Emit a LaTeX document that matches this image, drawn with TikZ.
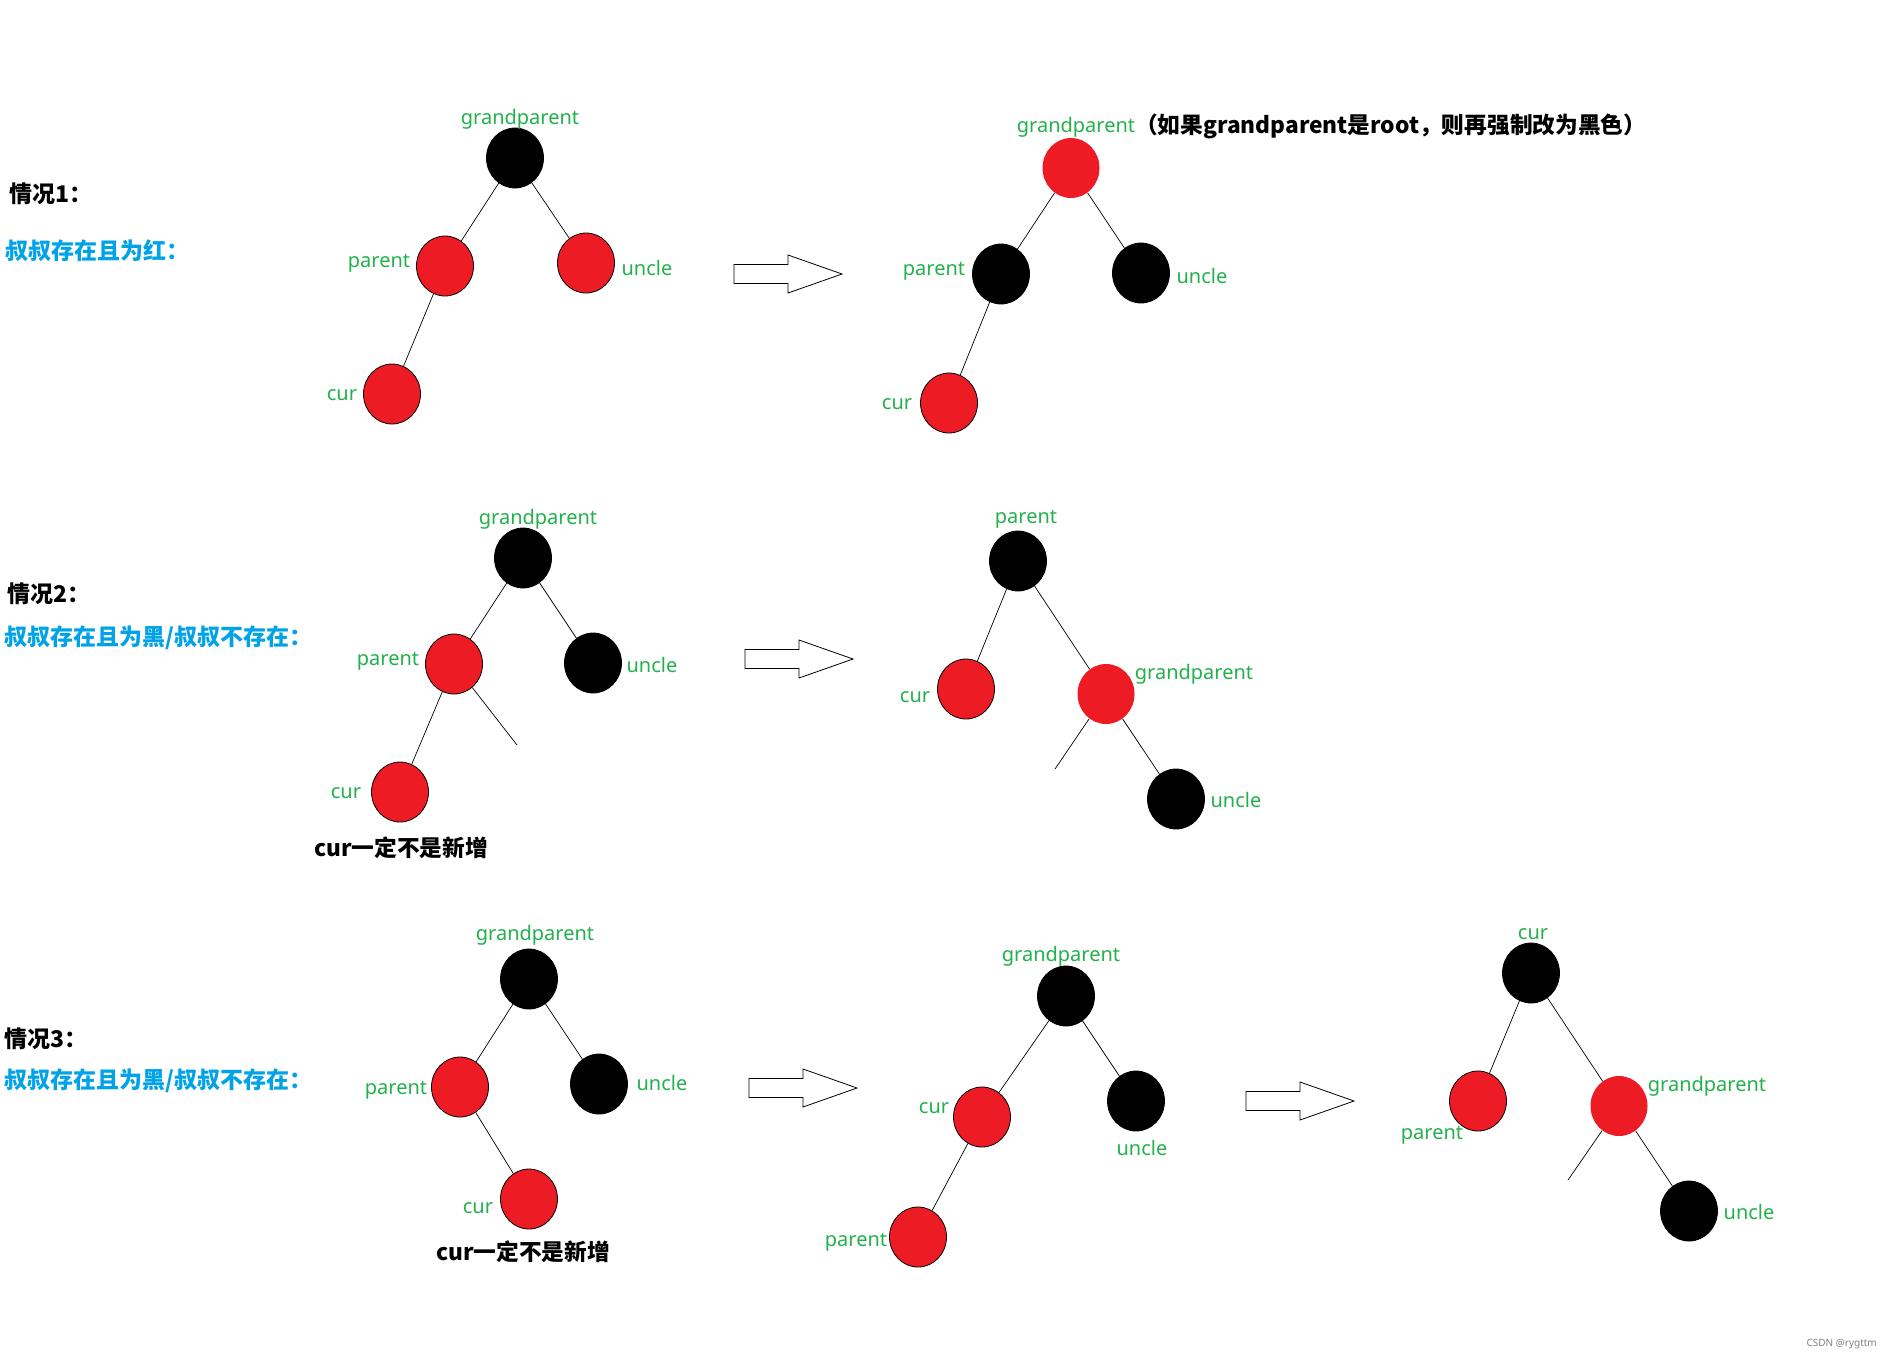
\documentclass[tikz,border=0pt]{standalone}
\usepackage{fontspec}
\setmainfont{Noto Sans CJK SC}
\newfontfamily\latf{Noto Sans}
\usetikzlibrary{shapes.geometric}
\definecolor{gr}{HTML}{22B14C}
\definecolor{rd}{HTML}{ED1C24}
\definecolor{bl}{HTML}{00A2E8}
\tikzset{
  pics/blockarrow/.style={code={\draw[line width=0.8pt,fill=white] (0,-9.5) -- (54,-9.5) -- (54,-19) -- (108,0) -- (54,19) -- (54,9.5) -- (0,9.5) -- cycle;}}
}
\begin{document}
\begin{tikzpicture}[x=1pt,y=-1pt,
  rn/.style={ellipse,fill=rd,draw=black,line width=0.8pt,minimum width=57pt,minimum height=60pt,inner sep=0pt},
  rnn/.style={rn,draw=none},
  bn/.style={ellipse,fill=black,draw=black,line width=0.8pt,minimum width=57pt,minimum height=60pt,inner sep=0pt},
  lbl/.style={text=gr,font=\latf\fontsize{20}{20}\selectfont,inner sep=0pt,yshift=-3pt},
  lbls/.style={lbl,yshift=1.5pt},
  edge/.style={draw=black,line width=0.7pt},
  title/.style={font=\bfseries\fontsize{23}{23}\selectfont,anchor=west,inner sep=0pt,yshift=-2pt},
  sub/.style={title,text=bl},
  note/.style={font=\bfseries\fontsize{22.7}{23}\selectfont,inner sep=0pt}
]
\useasboundingbox[fill=white] (0,0) rectangle (1893,1361);

% ---------- left titles ----------
\node[title] (t1) at (9,192) {情况1：};
\node[sub] (s1) at (5,249) {叔叔存在且为红：};
\node[title] (t2) at (7,592) {情况2：};
\node[sub] (s2) at (4,636) {叔叔存在且为黑/叔叔不存在：};
\node[title] (t3) at (4,1037) {情况3：};
\node[sub] (s3) at (4,1079) {叔叔存在且为黑/叔叔不存在：};

% ---------- case 1 left ----------
\node[bn] (a1) at (515,158) {};
\node[rn] (a2) at (445,266) {};
\node[rn] (a3) at (586,263) {};
\node[rn] (a4) at (392,394) {};
\draw[edge] (a1)--(a2) (a1)--(a3) (a2)--(a4);
\node[lbl] (la1) at (520,116) {grandparent};
\node[lbl] (la2) at (379,260) {parent};
\node[lbls] (la3) at (647,266) {uncle};
\node[lbl] (la4) at (342,392) {cur};

\pic at (734,274) {blockarrow};

% ---------- case 1 right ----------
\node[rnn] (b1) at (1071,168) {};
\node[bn] (b2) at (1001,274) {};
\node[bn] (b3) at (1141,273) {};
\node[rn] (b4) at (949,403) {};
\draw[edge] (b1)--(b2) (b1)--(b3) (b2)--(b4);
\node[lbl] (lb1) at (1076,124) {grandparent};
\node[note,anchor=west] (pn) at (1135,126) {（如果grandparent是root，则再强制改为黑色）};
\node[lbl] (lb2) at (934,268) {parent};
\node[lbls] (lb3) at (1202,274) {uncle};
\node[lbl] (lb4) at (897,401) {cur};

% ---------- case 2 left ----------
\node[bn] (c1) at (523,558) {};
\node[rn] (c2) at (454,664) {};
\node[bn] (c3) at (593,663) {};
\node[rn] (c4) at (400,792) {};
\coordinate (cd) at (517,745);
\draw[edge] (c1)--(c2) (c1)--(c3) (c2)--(c4) (c2)--(cd);
\node[lbl] (lc1) at (538,516) {grandparent};
\node[lbl] (lc2) at (388,658) {parent};
\node[lbls] (lc3) at (652,663) {uncle};
\node[lbl] (lc4) at (346,790) {cur};
\node[note] (nc) at (401,848) {cur一定不是新增};

\pic at (745,659) {blockarrow};

% ---------- case 2 right ----------
\node[bn] (d1) at (1018,561) {};
\node[rn] (d2) at (966,689) {};
\node[rnn] (d3) at (1106,694) {};
\node[bn] (d4) at (1176,799) {};
\coordinate (dd) at (1055,769);
\draw[edge] (d1)--(d2) (d1)--(d3) (d3)--(d4) (d3)--(dd);
\node[lbl] (ld1) at (1026,516) {parent};
\node[lbl] (ld2) at (915,694) {cur};
\node[lbl] (ld3) at (1194,671) {grandparent};
\node[lbls] (ld4) at (1236,798) {uncle};

% ---------- case 3 left ----------
\node[bn] (e1) at (529,979) {};
\node[rn] (e2) at (460,1087) {};
\node[bn] (e3) at (599,1084) {};
\node[rn] (e4) at (529,1199) {};
\draw[edge] (e1)--(e2) (e1)--(e3) (e2)--(e4);
\node[lbl] (le1) at (535,932) {grandparent};
\node[lbl] (le2) at (396,1087) {parent};
\node[lbls] (le3) at (662,1081) {uncle};
\node[lbl] (le4) at (478,1205) {cur};
\node[note] (ne) at (523,1252) {cur一定不是新增};

\pic at (749,1088) {blockarrow};

% ---------- case 3 middle ----------
\node[bn] (f1) at (1066,996) {};
\node[rn] (f2) at (982,1117) {};
\node[bn] (f3) at (1136,1101) {};
\node[rn] (f4) at (918,1237) {};
\draw[edge] (f1)--(f2) (f1)--(f3) (f2)--(f4);
\node[lbl] (lf1) at (1061,953) {grandparent};
\node[lbl] (lf2) at (934,1105) {cur};
\node[lbls] (lf3) at (1142,1146) {uncle};
\node[lbl] (lf4) at (856,1239) {parent};

\pic at (1246,1101) {blockarrow};

% ---------- case 3 right ----------
\node[bn] (g1) at (1531,973) {};
\node[rn] (g2) at (1478,1101) {};
\node[rnn] (g3) at (1619,1106) {};
\node[bn] (g4) at (1689,1211) {};
\coordinate (gd) at (1568,1180);
\draw[edge] (g1)--(g2) (g1)--(g3) (g3)--(g4) (g3)--(gd);
\node[lbl] (lg1) at (1533,931) {cur};
\node[lbl] (lg2) at (1432,1132) {parent};
\node[lbl] (lg3) at (1707,1083) {grandparent};
\node[lbls] (lg4) at (1749,1210) {uncle};

\node[anchor=east,text=gray,font=\latf\fontsize{10}{10}\selectfont,inner sep=0pt] (wm) at (1877,1344) {CSDN @rygttm};
\end{tikzpicture}
\end{document}
